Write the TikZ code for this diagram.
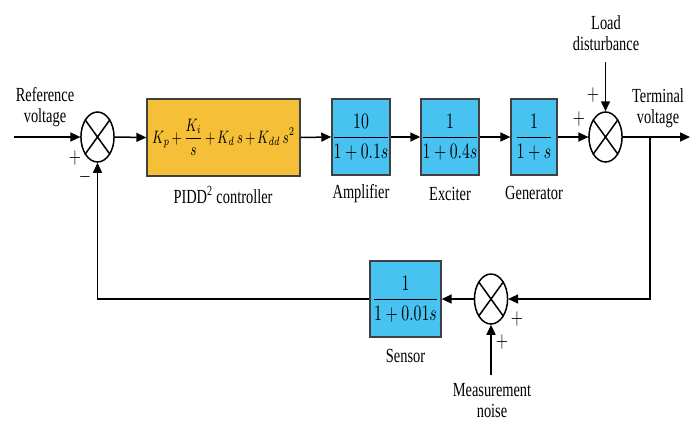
\documentclass[tikz,border=0pt]{standalone}
\usepackage{amsmath}
\usepackage{fontspec}
\setmainfont{Liberation Serif}
\usetikzlibrary{arrows.meta,shapes.geometric}

\definecolor{pidyellow}{RGB}{245,192,55}
\definecolor{tfblue}{RGB}{72,194,240}

\tikzset{
  tfbox/.style={draw=black!75,line width=0.9pt,fill=tfblue,minimum height=38pt,font=\fontsize{10.5}{12}\selectfont},
  sumnode/.style={draw=black,line width=0.75pt,ellipse,minimum width=23pt,minimum height=25pt},
  lbl/.style={font=\fontsize{10}{10.5}\selectfont,align=center},
  sgn/.style={font=\fontsize{10.5}{10.5}\selectfont},
  sig/.style={-{Triangle[length=5pt,width=4.5pt]}}
}

\begin{document}
\begin{tikzpicture}[x=0.69444pt,y=-0.5pt,xscale=0.72,line width=0.75pt]
\tikzstyle{every node}+=[inner sep=0pt,transform shape]
\useasboundingbox (0,0) rectangle (700,424);
% blocks of the forward path
\node [sumnode] (sumA) at (97.5,137) {};
\node [tfbox,fill=pidyellow,minimum width=106.25pt,minimum height=38.5pt,font=\fontsize{9}{12}\selectfont] (pid) at (223.5,137.5) {$\medmuskip=2.5mu K_p+\dfrac{K_i}{s}+K_d\,s+K_{dd}\,s^2$};
\node [tfbox,minimum width=38.9pt] (amp) at (361,137) {$\dfrac{10}{1+0.1s}$};
\node [tfbox,minimum width=38.9pt] (exc) at (450,137) {$\dfrac{1}{1+0.4s}$};
\node [tfbox,minimum width=31.9pt] (gen) at (534,137) {$\dfrac{1}{1+s}$};
\node [sumnode] (sumB) at (605.5,137) {};
% feedback path
\node [sumnode] (sumC) at (491,299) {};
\node [tfbox,minimum width=49.3pt] (sen) at (405.5,299) {$\dfrac{1}{1+0.01s}$};
\foreach \s in {sumA,sumB,sumC}
  \draw [black] (\s.45) -- (\s.225) (\s.135) -- (\s.-45);
% free ends
\coordinate (ref) at (14,137);
\coordinate (tv) at (690,137);
\coordinate (br) at (650,137);
\coordinate (ld) at (605.5,62);
\coordinate (mn) at (491,375);
% labels
\node [lbl] (refL) at (45,107) {Reference\\voltage};
\node [lbl] (pidL) at (223,195) {PIDD\textsuperscript{2} controller};
\node [lbl] (ampL) at (361,194) {Amplifier};
\node [lbl] (excL) at (450,194) {Exciter};
\node [lbl] (genL) at (534,193) {Generator};
\node [lbl] (ldL) at (606,33) {Load\\disturbance};
\node [lbl] (tvL) at (658,108) {Terminal\\voltage};
\node [lbl] (senL) at (405.5,356) {Sensor};
\node [lbl] (mnL) at (492,401) {Measurement\\noise};
% signs
\node [sgn] (pA) at (75,158) {$+$};
\node [sgn] (mA) at (85,177) {$-$};
\node [sgn] (pB1) at (593,95) {$+$};
\node [sgn] (pB2) at (579,119) {$+$};
\node [sgn] (pC1) at (517,319) {$+$};
\node [sgn] (pC2) at (502,342) {$+$};
% connectors
\draw [black,sig] (ref) -- (sumA.west);
\draw [black,sig] (sumA.east) -- (pid.west);
\draw [black,sig] (pid.east) -- (amp.west);
\draw [black,sig] (amp.east) -- (exc.west);
\draw [black,sig] (exc.east) -- (gen.west);
\draw [black,sig] (gen.east) -- (sumB.west);
\draw [black,sig] (sumB.east) -- (tv);
\draw [black,sig] (ld) -- (sumB.north);
\draw [black,sig] (br) |- (sumC.east);
\draw [black,sig] (sumC.west) -- (sen.east);
\draw [black,sig] (mn) -- (sumC.south);
\draw [black,sig] (sen.west) -| (sumA.south);
\end{tikzpicture}
\end{document}
